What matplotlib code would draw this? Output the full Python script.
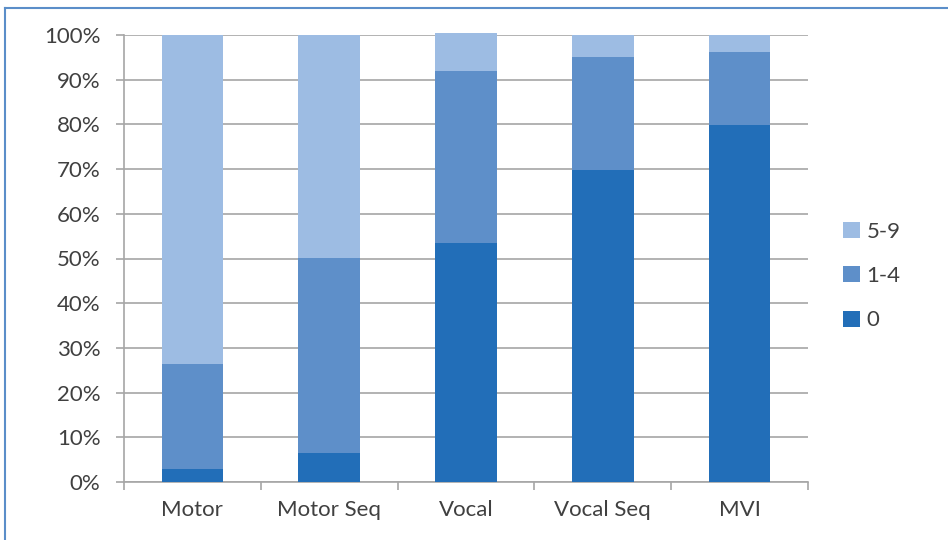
import matplotlib.pyplot as plt
from matplotlib.lines import Line2D
import matplotlib.ticker as mtick
import numpy as np

#%% data (percent of trials per category)
categories = ['Motor', 'Motor Seq', 'Vocal', 'Vocal Seq', 'MVI']
series_labels = ['0', '1-4', '5-9']
zero = [3.0, 6.5, 53.5, 69.8, 79.9]
one_to_four = [23.4, 43.6, 38.4, 25.3, 16.3]
five_to_nine = [73.6, 49.9, 8.5, 4.9, 3.8]

colors = ['#226eb8', '#5e8fc9', '#9dbce3']

#%% figure
plt.rcParams['font.family'] = ['Lato', 'DejaVu Sans']
text_color = '#404040'
grid_color = '#a6a6a6'
fs = 16

fig = plt.figure(figsize=(9.48, 5.4), dpi=100)
W, H = 948., 540.
ax = fig.add_axes([124/W, (H-482)/H, (808-124)/W, (482-35)/H])

x = np.arange(len(categories))
bottom = np.zeros(len(categories))
bars = []
for vals, lab, col in zip([zero, one_to_four, five_to_nine], series_labels, colors):
    b = ax.bar(x, vals, width=0.45, bottom=bottom, color=col, label=lab, zorder=3,
               clip_on=False)
    bars.append(b)
    bottom = bottom + np.array(vals)

ax.set_xlim(-0.5, len(categories) - 0.5)
ax.set_ylim(0, 100)
ax.set_yticks(np.arange(0, 101, 10))
ax.yaxis.set_major_formatter(mtick.PercentFormatter(decimals=0))
ax.set_xticks(x)
ax.set_xticklabels(categories)
ax.set_xticks(np.arange(-0.5, len(categories)), minor=True)

ax.grid(axis='y', color=grid_color, linewidth=1.2, zorder=0)
for side in ['top', 'right']:
    ax.spines[side].set_visible(False)
for side in ['left', 'bottom']:
    ax.spines[side].set_color(grid_color)
    ax.spines[side].set_linewidth(1.2)

ax.tick_params(axis='y', length=6, width=1.2, color=grid_color, colors=text_color,
               labelsize=fs, pad=11)
ax.tick_params(axis='x', which='major', length=0, colors=text_color, labelsize=fs, pad=13)
ax.tick_params(axis='x', which='minor', length=6, width=1.2, color=grid_color)

handles = [bars[2], bars[1], bars[0]]
leg = fig.legend(handles, ['5-9', '1-4', '0'], loc='center left',
                 bbox_to_anchor=(823/W, (H-276)/H), frameon=False,
                 fontsize=fs, handlelength=0.75, handleheight=0.75,
                 handletextpad=0.3, labelspacing=1.1)
for t in leg.get_texts():
    t.set_color(text_color)

# chart frame (top and left edge)
fig.add_artist(Line2D([5/W, 5/W], [0, (H-8)/H], color='#5b8ec9', linewidth=1.5))
fig.add_artist(Line2D([5/W, 1], [(H-8)/H, (H-8)/H], color='#5b8ec9', linewidth=1.5))

plt.savefig('out.png', dpi=100)
